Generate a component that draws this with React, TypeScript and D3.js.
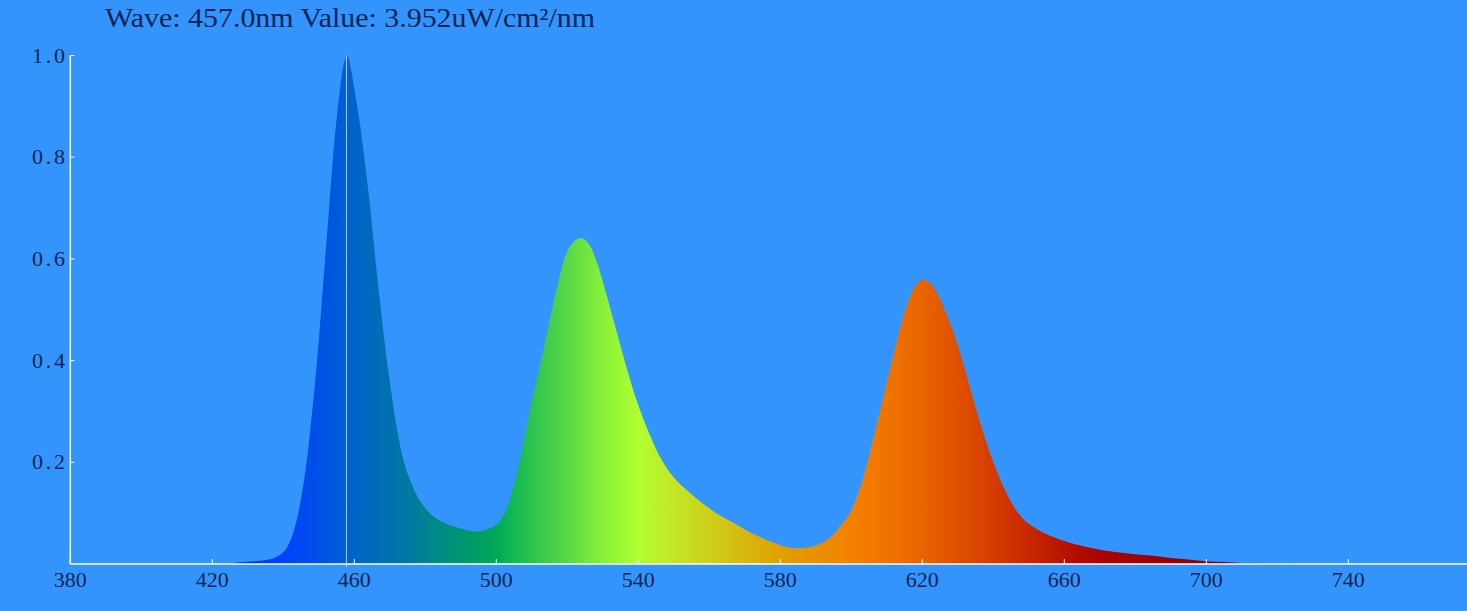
import React from 'react';
import * as d3 from 'd3';

const wavelengths = [423, 427, 431, 434, 437, 439, 440, 441, 442, 443, 444, 445, 446, 447, 448, 449, 450, 451, 452, 453, 454, 455, 456, 457, 458, 459, 460, 461.5, 463, 464.5, 466, 467.5, 469, 470.5, 472, 474, 476, 478, 480, 482, 485, 488, 491, 494, 497, 500, 502, 504, 506, 508, 510, 512, 514, 516, 518, 520, 522, 524, 526, 528, 530, 532, 534, 536, 538, 540, 543, 546, 550, 554, 558, 562, 566, 570, 574, 578, 582, 585, 588, 591, 594, 597, 600, 602, 604, 606, 608, 610, 612, 614, 616, 618, 620, 622, 624, 626, 628, 630, 632, 634, 636, 638, 640, 642, 644, 646, 648, 650, 654, 658, 662, 666, 670, 675, 680, 685, 690, 695, 700, 705, 710, 715, 720, 723];
const values = [0, 0.003, 0.005, 0.007, 0.011, 0.017, 0.023, 0.032, 0.046, 0.066, 0.093, 0.128, 0.172, 0.225, 0.29, 0.36, 0.44, 0.53, 0.62, 0.71, 0.8, 0.875, 0.935, 0.982, 1.0, 0.975, 0.935, 0.87, 0.79, 0.7, 0.595, 0.5, 0.41, 0.335, 0.267, 0.2, 0.16, 0.13, 0.11, 0.095, 0.082, 0.074, 0.068, 0.064, 0.067, 0.077, 0.095, 0.13, 0.185, 0.25, 0.32, 0.38, 0.445, 0.51, 0.57, 0.615, 0.635, 0.641, 0.63, 0.6, 0.555, 0.505, 0.455, 0.403, 0.355, 0.312, 0.258, 0.212, 0.17, 0.143, 0.12, 0.1, 0.084, 0.068, 0.054, 0.042, 0.033, 0.031, 0.033, 0.039, 0.052, 0.075, 0.105, 0.14, 0.185, 0.24, 0.298, 0.357, 0.415, 0.47, 0.515, 0.546, 0.559, 0.553, 0.535, 0.505, 0.47, 0.43, 0.382, 0.333, 0.284, 0.24, 0.2, 0.165, 0.135, 0.11, 0.092, 0.079, 0.062, 0.05, 0.041, 0.034, 0.028, 0.023, 0.019, 0.016, 0.012, 0.009, 0.0055, 0.004, 0.002, 0.001, 0.0005, 0];

const xTickValues = [380, 420, 460, 500, 540, 580, 620, 660, 700, 740];
const yTickValues = [0.2, 0.4, 0.6, 0.8, 1.0];
const yTickLabels = ['0.2', '0.4', '0.6', '0.8', '1.0'];

const gradientWaves = [430, 440, 450, 457, 462, 470, 478, 485, 495, 500, 505, 510, 520, 530, 540, 550, 560, 570, 580, 590, 600, 610, 620, 630, 640, 650, 660, 670, 690, 700, 710, 725];
const gradientColors = ['#0038ff', '#0040ff', '#0050e6', '#005ed6', '#0068c2', '#0070b0', '#007e98', '#008c80', '#009e62', '#00a858', '#14b852', '#2cc44e', '#58d846', '#88f038', '#b0ff30', '#c4e624', '#ccd01a', '#d6b810', '#e0a000', '#e89000', '#f48000', '#f07400', '#e86400', '#e05000', '#d43c00', '#c82800', '#b81200', '#a80400', '#980000', '#880000', '#700008', '#5a0010'];

const cursorWave = 457.8;
const titleText = 'Wave: 457.0nm Value: 3.952uW/cm\u00b2/nm';

export default function App() {
  const W = 1467;
  const H = 611;
  const x = d3.scaleLinear().domain([380, 780]).range([70.3, 1490.3]);
  const y = d3.scaleLinear().domain([0, 1]).range([564, 55.5]);
  const data = wavelengths.map((w, i) => ({ w, v: values[i] }));
  const area = d3
    .area<{ w: number; v: number }>()
    .x((d) => x(d.w))
    .y0(y(0))
    .y1((d) => Math.min(y(d.v), y(0)))
    .curve(d3.curveCatmullRom.alpha(0.5));
  const textColor = '#0d2456';
  const font = '"Liberation Serif", "DejaVu Serif", serif';
  const x0 = x(380);
  const y0 = y(0);
  return (
    <svg width={W} height={H} style={{ position: 'absolute', left: 0, top: 0 }}>
      <defs>
        <linearGradient id="spec" gradientUnits="userSpaceOnUse" x1={x(380)} x2={x(780)} y1={0} y2={0}>
          {gradientWaves.map((w, i) => (
            <stop key={i} offset={(w - 380) / 400} stopColor={gradientColors[i]} />
          ))}
        </linearGradient>
        <clipPath id="plotclip">
          <rect x={x0} y={0} width={W} height={y0} />
        </clipPath>
      </defs>
      <rect x={0} y={0} width={W} height={H} fill="#3395fc" />
      <path d={area(data) || ''} fill="url(#spec)" clipPath="url(#plotclip)" />
      <line x1={x0} x2={W} y1={y0} y2={y0} stroke="#ffffff" strokeWidth={1.5} />
      <line x1={x0} x2={x0} y1={y(1)} y2={y0} stroke="#ffffff" strokeWidth={1.5} />
      {xTickValues.map((t) => (
        <g key={'x' + t}>
          <line x1={x(t)} x2={x(t)} y1={y0} y2={y0 - 5} stroke="#ffffff" strokeWidth={1} />
          <text x={x(t)} y={587} fill={textColor} fontFamily={font} fontSize={22} textAnchor="middle">
            {t}
          </text>
        </g>
      ))}
      {yTickValues.map((t, i) => (
        <g key={'y' + t}>
          <line x1={x0} x2={x0 + 4} y1={y(t)} y2={y(t)} stroke="#ffffff" strokeWidth={1} />
          <text x={32} y={y(t) + 7} fill={textColor} fontFamily={font} fontSize={22} textLength={33} lengthAdjust="spacing">
            {yTickLabels[i]}
          </text>
        </g>
      ))}
      <line x1={x(cursorWave)} x2={x(cursorWave)} y1={y(1)} y2={y0 + 3} stroke="#c8c8c8" strokeWidth={1} />
      <text x={105} y={27} fill={textColor} fontFamily={font} fontSize={27} textLength={490} lengthAdjust="spacingAndGlyphs">
        {titleText}
      </text>
    </svg>
  );
}
